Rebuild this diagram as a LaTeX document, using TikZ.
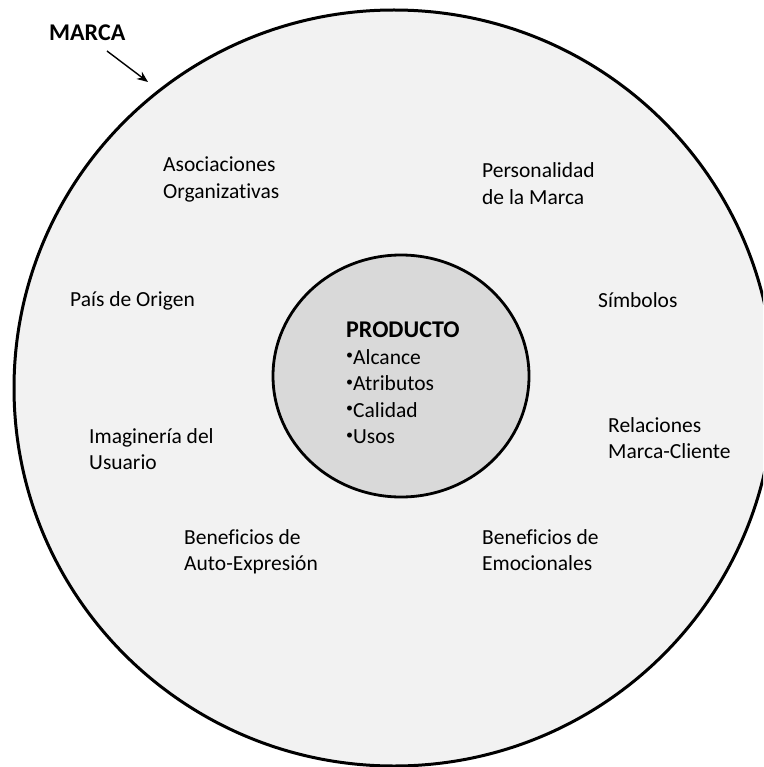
\documentclass[tikz,border=0pt]{standalone}
\usepackage{fontspec}
\setmainfont{Carlito}[Ligatures=NoCommon]
\usetikzlibrary{arrows.meta,shapes.geometric}
\definecolor{brandfill}{RGB}{242,242,242}
\definecolor{corefill}{RGB}{217,217,217}
\newcommand{\lines}[1]{\begin{tabular}[t]{@{}l@{}}#1\end{tabular}}
\newcommand{\dotitem}{\raisebox{4.5pt}{\fontsize{14}{14}\selectfont •}}
\begin{document}
\begin{tikzpicture}[x=1pt,y=-1pt,
  txt/.style={anchor=base west, inner sep=0pt, font=\fontsize{21.5}{26.5}\selectfont},
  headtxt/.style={anchor=base west, inner sep=0pt, font=\fontsize{24}{28}\selectfont\bfseries},
  ring/.style={ellipse, draw=black, inner sep=0pt},
  pointer/.style={line width=1.4pt, -{Stealth[length=11pt,width=9pt]}}]
\useasboundingbox (0,0) rectangle (763,767);

% outer ring: the brand (runs past the right edge)
\begin{scope}
  \clip (0,0) rectangle (763,767);
  \node[ring, line width=3pt, fill=brandfill, minimum width=760pt, minimum height=756pt] (brand) at (394,388) {};
\end{scope}

% inner disc: the product
\node[ring, line width=2.8pt, fill=corefill, minimum width=256pt, minimum height=242pt] (core) at (401,376) {};

% label with its pointer
\node[headtxt] (marcalabel) at (49,41) {MARCA};
\coordinate (pointertail) at (107,51);
\coordinate (pointertip) at (148,82);
\draw[pointer] (pointertail) -- (pointertip);

% product contents
\node[headtxt] (prodtitle) at (346,337) {PRODUCTO};
\node[txt] (prodlist) at (346,364) {\lines{\dotitem Alcance\\ \dotitem Atributos\\ \dotitem Calidad\\ \dotitem Usos}};

% brand associations
\node[txt] (asoc) at (163,172) {\lines{Asociaciones\\ Organizativas}};
\node[txt] (pers) at (482,178) {\lines{Personalidad\\ de la Marca}};
\node[txt] (pais) at (70,306) {País de Origen};
\node[txt] (simb) at (598,307) {Símbolos};
\node[txt] (imag) at (89,443) {\lines{Imaginería del\\ Usuario}};
\node[txt] (rela) at (608,432) {\lines{Relaciones\\ Marca-Cliente}};
\node[txt] (auto) at (184,544) {\lines{Beneficios de\\ Auto-Expresión}};
\node[txt] (emoc) at (482,544) {\lines{Beneficios de\\ Emocionales}};
\end{tikzpicture}
\end{document}
